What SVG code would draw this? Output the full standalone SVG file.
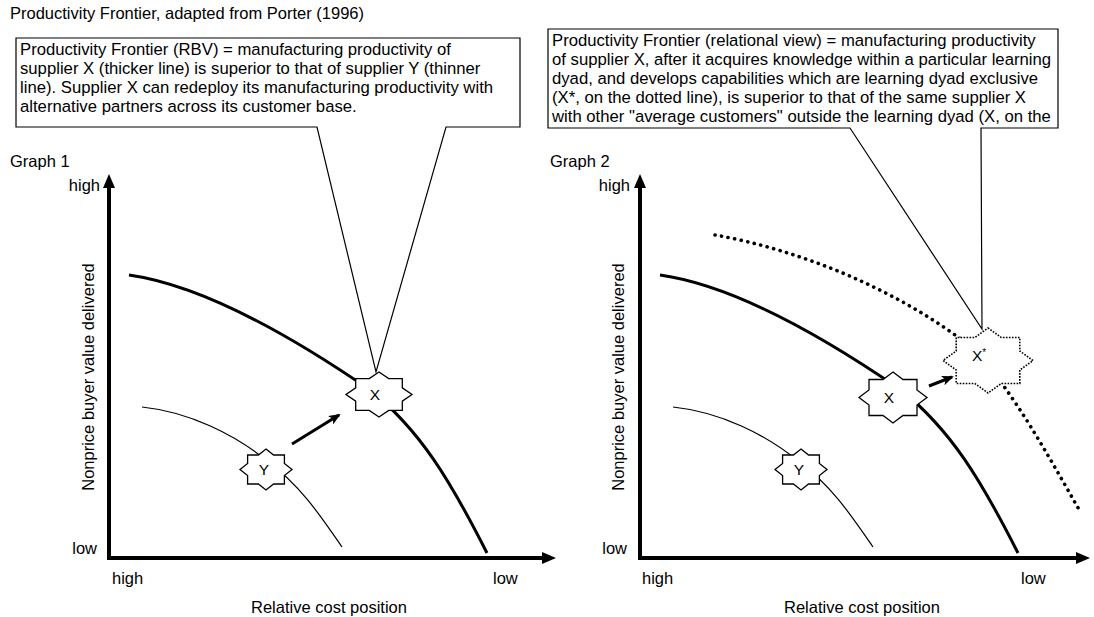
<svg xmlns="http://www.w3.org/2000/svg" width="1094" height="617" viewBox="0 0 1094 617">
<style>
text{font-family:"Liberation Sans",Arial,Helvetica,sans-serif;fill:#000}
.t{font-size:16.5px}
.b{font-size:16.7px}
.lbl{font-size:15.5px}
.axis{stroke:#000;stroke-width:4;fill:none}
.thick{stroke:#000;stroke-width:3;fill:none}
.thin{stroke:#000;stroke-width:1.2;fill:none}
.dot{stroke:#000;stroke-width:3.6;fill:none;stroke-dasharray:0.1 6.6;stroke-linecap:round}
.star{fill:#fff;stroke:#000;stroke-width:1.3}
.stard{fill:#fff;stroke:#000;stroke-width:1.6;stroke-dasharray:1.6 1.4}
.call{fill:#fff;stroke:#000;stroke-width:1.2}
.arr{stroke:#000;stroke-width:3;fill:none}
</style>
<defs>
<marker id="ah" viewBox="0 0 12 10" refX="10" refY="5" markerWidth="12" markerHeight="10" markerUnits="userSpaceOnUse" orient="auto">
<path d="M0,0 L12,5 L0,10 L3,5 Z" fill="#000"/>
</marker>
<marker id="axh" viewBox="0 0 14 12" refX="2" refY="6" markerWidth="14" markerHeight="12" markerUnits="userSpaceOnUse" orient="auto">
<path d="M0,0 L14,6 L0,12 Z" fill="#000"/>
</marker>
</defs>
<rect width="1094" height="617" fill="#fff"/>
<text class="t" x="10" y="19">Productivity Frontier, adapted from Porter (1996)</text>
<text class="t" x="10" y="167">Graph 1</text>
<text class="t" x="550" y="167">Graph 2</text>

<g id="connectors">
<path class="axis" d="M109,558 V186" marker-end="url(#axh)"/>
<path class="axis" d="M107,558 H544" marker-end="url(#axh)"/>
<path class="axis" d="M640,558 V186" marker-end="url(#axh)"/>
<path class="axis" d="M638,558 H1078" marker-end="url(#axh)"/>
<path class="thick" d="M129,275 C200,285 290,335 370,390 C420,430 450,480 487,553"/>
<path class="thin" d="M142,407 C190,412 235,435 266,460 C300,485 320,515 342,547"/>
<path class="thick" d="M660,275 C731,285 821,335 901,390 C951,430 981,480 1018,553"/>
<path class="thin" d="M673,407 C721,412 766,435 797,460 C831,485 851,515 873,547"/>
<path class="dot" d="M715,235 C800,250 900,290 975,350 C1015,395 1045,450 1081,513"/>
<path class="arr" d="M292,444 L339,415" marker-end="url(#ah)"/>
<path class="arr" d="M929,386 L952,377" marker-end="url(#ah)"/>
</g>

<g id="callout1">
<path class="call" d="M16,38 H520 V127 H446 L376,372 L317,127 H16 Z"/>
<text class="b"><tspan x="20" y="55">Productivity Frontier (RBV) = manufacturing productivity of</tspan><tspan x="20" y="74">supplier X (thicker line) is superior to that of supplier Y (thinner</tspan><tspan x="20" y="93">line). Supplier X can redeploy its manufacturing productivity with</tspan><tspan x="20" y="112">alternative partners across its customer base.</tspan></text>
</g>

<g id="callout2">
<path class="call" d="M548,29 H1058 V128 H981 L982,329 L850,128 H548 Z"/>
<text class="b"><tspan x="552" y="46">Productivity Frontier (relational view) = manufacturing productivity</tspan><tspan x="552" y="65">of supplier X, after it acquires knowledge within a particular learning</tspan><tspan x="552" y="84">dyad, and develops capabilities which are learning dyad exclusive</tspan><tspan x="552" y="103">(X*, on the dotted line), is superior to that of the same supplier X</tspan><tspan x="552" y="122">with other "average customers" outside the learning dyad (X, on the</tspan></text>
</g>

<g id="graph1-labels">
<text class="t" x="100" y="191" text-anchor="end">high</text>
<text class="t" x="97" y="554" text-anchor="end">low</text>
<text class="t" x="112" y="584">high</text>
<text class="t" x="493" y="584">low</text>
<text class="t" x="329" y="613" text-anchor="middle">Relative cost position</text>
<text class="t" transform="translate(94,377) rotate(-90)" text-anchor="middle">Nonprice buyer value delivered</text>
</g>
<g id="graph2-labels">
<text class="t" x="630" y="191" text-anchor="end">high</text>
<text class="t" x="627" y="554" text-anchor="end">low</text>
<text class="t" x="642" y="584">high</text>
<text class="t" x="1021" y="584">low</text>
<text class="t" x="862" y="613" text-anchor="middle">Relative cost position</text>
<text class="t" transform="translate(624,377) rotate(-90)" text-anchor="middle">Nonprice buyer value delivered</text>
</g>

<g id="node-X1">
<polygon class="star" points="379,372 388.7,378.6 402.3,378.6 402.3,387.9 412,394.5 402.3,401.1 402.3,410.4 388.7,410.4 379,417 369.3,410.4 355.7,410.4 355.7,401.1 346,394.5 355.7,387.9 355.7,378.6 369.3,378.6"/>
<text class="lbl" x="375" y="400" text-anchor="middle">X</text>
</g>
<g id="node-Y1">
<polygon class="star" points="266,449 273.6,455 284.4,455 284.4,463.5 292,469.5 284.4,475.5 284.4,484 273.6,484 266,490 258.4,484 247.6,484 247.6,475.5 240,469.5 247.6,463.5 247.6,455 258.4,455"/>
<text class="lbl" x="264" y="475" text-anchor="middle">Y</text>
</g>
<g id="node-Y2">
<polygon class="star" points="801,449 808.6,455 819.4,455 819.4,463.5 827,469.5 819.4,475.5 819.4,484 808.6,484 801,490 793.4,484 782.6,484 782.6,475.5 775,469.5 782.6,463.5 782.6,455 793.4,455"/>
<text class="lbl" x="799" y="475" text-anchor="middle">Y</text>
</g>
<g id="node-X2">
<polygon class="star" points="893,372 903,379.5 917,379.5 917,390 927,397.5 917,405 917,415.5 903,415.5 893,423 883,415.5 869,415.5 869,405 859,397.5 869,390 869,379.5 883,379.5"/>
<text class="lbl" x="889" y="403" text-anchor="middle">X</text>
</g>
<g id="node-Xstar">
<polygon class="stard" points="988,328 1001.2,337.5 1019.8,337.5 1019.8,351 1033,360.5 1019.8,370 1019.8,383.5 1001.2,383.5 988,393 974.8,383.5 956.2,383.5 956.2,370 943,360.5 956.2,351 956.2,337.5 974.8,337.5"/>
<text class="lbl" x="972" y="361">X<tspan font-size="10" dy="-5">*</tspan></text>
</g>
</svg>
